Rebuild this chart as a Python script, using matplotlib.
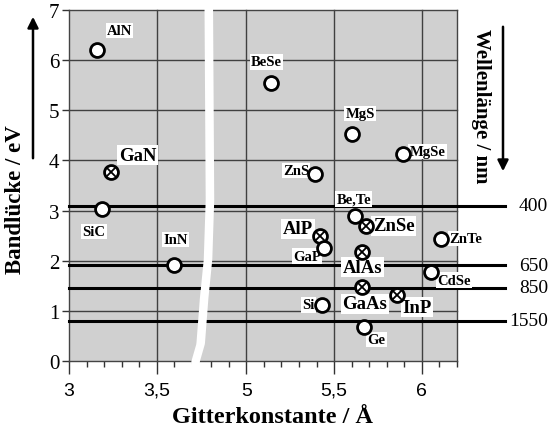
import numpy as np
import matplotlib.pyplot as plt

# Daten: Gitterkonstante (Angström) und Bandlücke (eV)
names = ['AlN', 'GaN', 'SiC', 'InN', 'BeSe', 'MgS', 'MgSe', 'ZnS', 'Be,Te', 'ZnSe',
         'AlP', 'GaP', 'AlAs', 'ZnTe', 'CdSe', 'GaAs', 'InP', 'Si', 'Ge']
lattice = [3.16, 3.24, 3.19, 3.60, 5.14, 5.60, 5.89, 5.39, 5.62, 5.68,
           5.42, 5.44, 5.66, 6.11, 6.05, 5.66, 5.86, 5.43, 5.67]
bandgap = [6.20, 3.77, 3.03, 1.92, 5.55, 4.52, 4.12, 3.72, 2.90, 2.70,
           2.50, 2.26, 2.17, 2.44, 1.78, 1.47, 1.32, 1.12, 0.68]
crossed = [False, True, False, False, False, False, False, False, False, True,
           True, False, True, False, False, True, True, False, False]
big = [False, True, False, False, False, False, False, False, False, True,
       True, False, True, False, False, True, True, False, False]

wavelengths = [400, 650, 850, 1550]
wl_energy = [1240 / w for w in wavelengths]

# Beschriftungs-Versatz (Punkte) und Ausrichtung
offsets = [(16, 14), (19, 12), (-6, -16), (1, 18), (-3, 15), (6, 15), (5, 2), (-4, 3),
           (-1, 12), (5, 0), (-5, 5), (-2, -6), (0, -11), (6, 0), (5, -6), (2, -12),
           (14, -9), (-5, 0), (9, -9)]
aligns = ['center', 'center', 'center', 'center', 'center', 'center', 'left', 'right',
          'center', 'left', 'right', 'right', 'center', 'left', 'left', 'center',
          'center', 'right', 'center']


# gebrochene x-Achse: 3..3.75 normal, ab 4.8 nach links verschoben
def fwd(x):
    x = np.asarray(x, dtype=float)
    return np.where(x <= 3.75, x,
                    np.where(x < 4.8, 3.75 + (x - 3.75) * (0.06 / 1.05), x - 0.99))


def inv(u):
    u = np.asarray(u, dtype=float)
    return np.where(u <= 3.75, u,
                    np.where(u < 3.81, 3.75 + (u - 3.75) * (1.05 / 0.06), u + 0.99))


fig = plt.figure(figsize=(5.5, 4.31), dpi=100)
ax = fig.add_axes([69 / 550, 1 - 362 / 431, 388 / 550, 351 / 431])
ax.set_facecolor('#d0d0d0')
ax.set_xscale('function', functions=(fwd, inv))
ax.set_xlim(3, 6.2)
ax.set_ylim(0, 7)

ax.set_xticks([3, 3.5, 5, 5.5, 6])
ax.set_xticklabels(['3', '3,5', '5', '5,5', '6'], family='Liberation Sans', fontsize=14)
minor = list(np.round(np.arange(3.0, 3.75, 0.1), 2)) + list(np.round(np.arange(4.8, 6.25, 0.1), 2))
ax.set_xticks(minor, minor=True)
ax.set_yticks(range(8))
ax.set_yticklabels([str(i) for i in range(8)], family='Liberation Serif', fontsize=15)
ax.tick_params(axis='x', which='major', direction='out', length=9, width=1, color='#333333', pad=6)
ax.tick_params(axis='x', which='minor', direction='out', length=4, width=1, color='#333333')
ax.tick_params(axis='y', direction='out', length=5, width=1, color='#333333', pad=2)
for s in ax.spines.values():
    s.set_color('#444444')
    s.set_linewidth(1.0)

# Gitterlinien
for xv in [3.5, 5, 5.5, 6]:
    ax.plot([xv, xv], [0, 1], color='#404040', lw=1.0, transform=ax.get_xaxis_transform(),
            clip_on=False, zorder=2.5)
for yv in range(1, 7):
    ax.plot([0, 1], [yv, yv], color='#404040', lw=1.0, transform=ax.get_yaxis_transform(),
            clip_on=False, zorder=2.5)

# Wellenlängen-Linien
for e, w in zip(wl_energy, wavelengths):
    ax.plot([0, 1.124], [e, e], color='black', lw=2.2, transform=ax.get_yaxis_transform(),
            clip_on=False, zorder=3)
    ax.text(1.2345, e, str(w), transform=ax.get_yaxis_transform(), ha='right', va='center',
            family='Liberation Serif', fontsize=14)

# Punkte
for i in range(len(names)):
    ax.plot(lattice[i], bandgap[i], 'o', ms=10, mfc='white', mec='black', mew=2, zorder=7)
    if crossed[i]:
        ax.plot(lattice[i], bandgap[i], 'x', ms=6.5, mec='black', mew=1.3, zorder=8)
    ax.annotate(names[i], (lattice[i], bandgap[i]), xytext=offsets[i], textcoords='offset points',
                ha=aligns[i], va='center', family='Liberation Serif', weight='bold',
                fontsize=13.5 if big[i] else 10.5, zorder=6,
                bbox=dict(boxstyle='square,pad=0.08', fc='white', ec='none'))

# weißer Bruchstreifen
t = np.linspace(-0.035, 1.005, 200)
c = np.interp(t, [-0.035, 0.0, 0.05, 0.18, 0.29, 0.46, 1.005],
              [0.322, 0.325, 0.338, 0.347, 0.357, 0.362, 0.359])
ax.fill_betweenx(t, c - 0.011, c + 0.011, color='white', transform=ax.transAxes,
                 clip_on=False, zorder=5, lw=0)

fig.text(273 / 550, 1 - 418 / 431, 'Gitterkonstante / Å', ha='center', va='center',
         family='Liberation Serif', weight='bold', fontsize=17.5)
fig.text(16 / 550, 1 - 200 / 431, 'Bandlücke / eV', rotation=90, ha='center', va='center',
         family='Liberation Serif', weight='bold', fontsize=16.5)
fig.text(481 / 550, 1 - 106 / 431, 'Wellenlänge / nm', rotation=-90, ha='center', va='center',
         family='Liberation Serif', weight='bold', fontsize=15)

ax.annotate('', xy=(33 / 550, 1 - 15 / 431), xytext=(33 / 550, 1 - 162 / 431),
            xycoords='figure fraction', textcoords='figure fraction',
            arrowprops=dict(arrowstyle='-|>', color='black', lw=1.8, mutation_scale=16))
ax.annotate('', xy=(503 / 550, 1 - 175 / 431), xytext=(503 / 550, 1 - 25 / 431),
            xycoords='figure fraction', textcoords='figure fraction',
            arrowprops=dict(arrowstyle='-|>', color='black', lw=1.8, mutation_scale=16))

plt.savefig('out.png', dpi=100)
